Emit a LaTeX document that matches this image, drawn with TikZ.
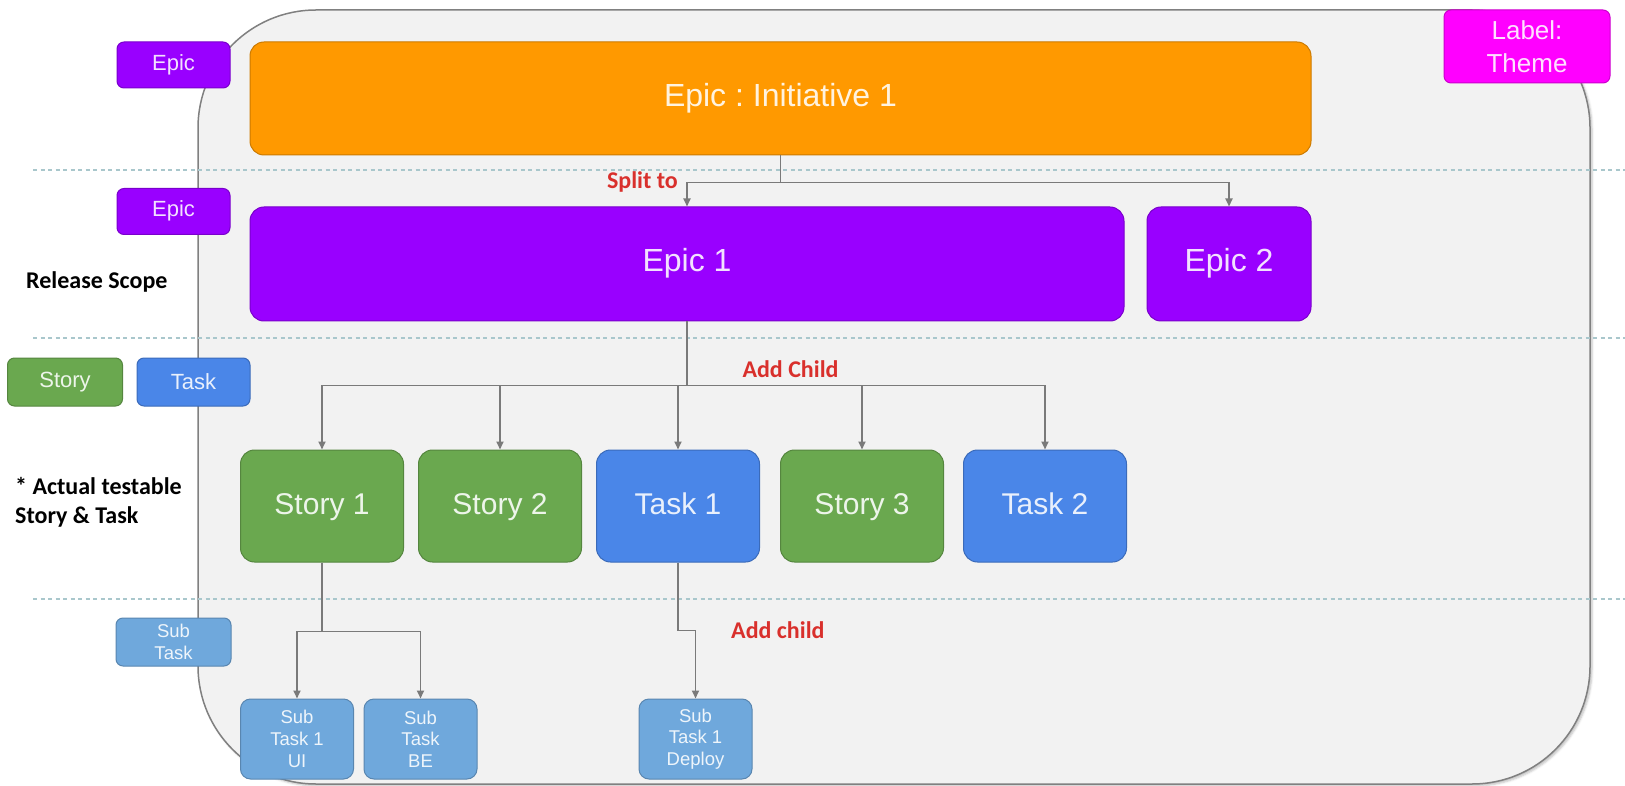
\documentclass[tikz,border=0pt]{standalone}
\usepackage{fontspec}
\setmainfont{Liberation Sans}
\newfontfamily\notefont{Carlito}
\usetikzlibrary{arrows.meta,positioning,calc,shadows.blur}
\frenchspacing

\definecolor{initorange}{HTML}{FF9900}
\definecolor{epicpurple}{HTML}{9900FF}
\definecolor{storygreen}{HTML}{6AA84F}
\definecolor{taskblue}{HTML}{4A86E8}
\definecolor{subblue}{HTML}{6FA8DC}
\definecolor{thememagenta}{HTML}{FF00FF}
\definecolor{panelgray}{HTML}{F2F2F2}
\definecolor{rulecyan}{HTML}{A9C7CC}
\definecolor{wiregray}{HTML}{7A7A7A}
\definecolor{notered}{HTML}{D9302C}

\tikzset{%
         card/.style = { rounded corners=14pt, text=#1!12!white, align=center, inner sep=0pt, draw=#1!80!black, fill=#1, line width=1pt },
      bigcard/.style = { card=#1, font=\fontsize{32}{36}\selectfont, text height=23pt, text depth=7pt },
    storycard/.style = { card=#1, font=\fontsize{30}{34}\selectfont, text height=22pt, text depth=6pt, minimum width=163, minimum height=112 },
      subcard/.style = { card=subblue, rounded corners=10pt, font=\fontsize{18.5}{21.7}\selectfont, minimum width=113, minimum height=80 },
    legendbox/.style = { card=#1, rounded corners=7pt, font=\fontsize{22}{26}\selectfont, minimum width=113, minimum height=46 },
         note/.style = { font=\notefont\bfseries\fontsize{24}{29}\selectfont, align=left, inner sep=0pt },
     redlabel/.style = { note, text=notered },
         wire/.style = { draw=wiregray, line width=1.8pt },
        arrow/.style = { wire, -{Triangle[length=8pt,width=7pt]} },
      divider/.style = { draw=rulecyan, line width=1.6pt, dash pattern=on 4pt off 3.5pt }
}

\begin{document}
\begin{tikzpicture}[x=1pt,y=-1pt]
\useasboundingbox (0,0) rectangle (1625,786);

% panel and level rules
\draw[draw=gray, fill=panelgray, line width=1.5pt, rounded corners=118pt,
      blur shadow={shadow xshift=2pt, shadow yshift=-2pt, shadow opacity=25}] (198,10) rectangle (1590,784);
\foreach \y in {170,338,599}
  \draw[divider] (33,\y) -- (1625,\y);

% legend column
\node[legendbox=epicpurple, text height=16pt, text depth=5pt] (legendA) at (173.5,65) {Epic};
\node[legendbox=epicpurple, text height=16pt, text depth=5pt] (legendB) at (173.5,211.5) {Epic};
\node[legendbox=storygreen, minimum width=115, minimum height=48] (legendStory) at (65,382) {Story};
\node[legendbox=taskblue, minimum width=113, minimum height=48] (legendTask) at (193.5,382) {Task};
\node[legendbox=subblue, minimum width=115, minimum height=48, font=\fontsize{18.5}{21.7}\selectfont] (legendSub) at (173.5,642) {Sub\\Task};
\node[legendbox=thememagenta, minimum width=166, minimum height=73, font=\fontsize{26}{33}\selectfont] (theme) at (1527,46.5) {Label:\\Theme};

\node[note, anchor=west] (scope) at (26,282) {Release Scope};
\node[note, anchor=west] (testable) at (15,502) {* Actual testable\\Story \& Task};

% epics
\node[bigcard=initorange, minimum width=1061, minimum height=113] (init) at (780.5,98.5) {Epic : Initiative 1};
\node[bigcard=epicpurple, minimum width=874, minimum height=114] (epicA) at (687,264) {Epic 1};
\node[bigcard=epicpurple, minimum width=164, minimum height=114] (epicB) at (1229,264) {Epic 2};

% stories and tasks
\node[storycard=storygreen] (storyA) at (322,506) {Story 1};
\node[storycard=storygreen] (storyB) at (500,506) {Story 2};
\node[storycard=taskblue] (taskA) at (678,506) {Task 1};
\node[storycard=storygreen] (storyC) at (862,506) {Story 3};
\node[storycard=taskblue] (taskB) at (1045,506) {Task 2};

% sub tasks
\node[subcard] (subUI) at (297,739) {Sub\\Task 1\\UI};
\node[subcard] (subBE) at (420.5,739) {Sub\\Task\\BE};
\node[subcard] (subDeploy) at (695.5,739) {Sub\\Task 1\\Deploy};

% links
\foreach \epic in {epicA,epicB}
  \draw[arrow] (init.south) -- ++(0,27) -| (\epic.north);
\foreach \child in {storyA,storyB,taskA,storyC,taskB}
  \draw[arrow] (epicA.south) -- ++(0,64) -| (\child.north);
\foreach \sub in {subUI,subBE}
  \draw[arrow] (storyA.south) -- ++(0,69) -| (\sub.north);
\draw[arrow] (taskA.south) -- ++(0,68) -| (subDeploy.north);

\node[redlabel, anchor=east] (splitLabel) at (678,182) {Split to};
\node[redlabel] (childLabel) at (790.5,369) {Add Child};
\node[redlabel, anchor=west] (subLabel) at (731,630) {Add child};
\end{tikzpicture}
\end{document}
